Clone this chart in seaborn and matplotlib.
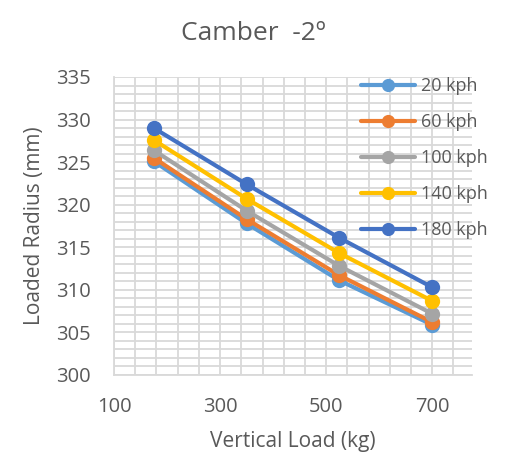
import numpy as np
import pandas as pd
import matplotlib
matplotlib.use("Agg")
import matplotlib.pyplot as plt
from matplotlib.ticker import FixedLocator, MultipleLocator
import seaborn as sns

loads = [175, 350, 525, 700]
speeds = ["20 kph", "60 kph", "100 kph", "140 kph", "180 kph"]
r20 = [325.1, 317.8, 311.1, 305.9]
r60 = [325.5, 318.3, 311.7, 306.2]
r100 = [326.4, 319.3, 312.8, 307.2]
r140 = [327.6, 320.7, 314.3, 308.7]
r180 = [329.0, 322.4, 316.1, 310.3]
colors = ["#5B9BD5", "#ED7D31", "#A5A5A5", "#FFC000", "#4472C4"]
x_ticks = [100, 300, 500, 700]
y_ticks = [300, 305, 310, 315, 320, 325, 330, 335]

rows = []
for s, vals in zip(speeds, [r20, r60, r100, r140, r180]):
    for x, v in zip(loads, vals):
        rows.append({"load": x, "radius": v, "speed": s})
df = pd.DataFrame(rows)

sns.set_theme(style="white")
plt.rcParams["font.family"] = ["Open Sans", "DejaVu Sans"]
txt = "#595959"
grid = "#D9D9D9"

fig = plt.figure(figsize=(5.06, 4.58), dpi=100)
ax = fig.add_axes([114/506, 1-375/458, (472-114)/506, (375-77)/458])

sns.lineplot(data=df, x="load", y="radius", hue="speed", hue_order=speeds,
             palette=colors, marker="o", markersize=11, linewidth=3,
             markeredgewidth=0, ax=ax, legend=True, zorder=3)

ax.set_xlim(100, 775)
ax.set_ylim(300, 335)
ax.xaxis.set_major_locator(FixedLocator(x_ticks))
ax.yaxis.set_major_locator(FixedLocator(y_ticks))
ax.xaxis.set_minor_locator(FixedLocator(list(range(100, 775, 40))))
ax.yaxis.set_minor_locator(MultipleLocator(1))
ax.grid(True, which="both", color=grid, linewidth=1.3, zorder=0)
ax.set_axisbelow(True)
for side in ["top", "right"]:
    ax.spines[side].set_visible(False)
ax.spines["left"].set_color(grid)
ax.spines["bottom"].set_color(grid)
ax.spines["left"].set_linewidth(1.3)
ax.spines["bottom"].set_linewidth(1.3)
ax.tick_params(axis="both", which="both", length=0, labelsize=14.5, colors=txt)
ax.tick_params(axis="x", pad=16)
ax.tick_params(axis="y", pad=17)

ax.set_xlabel("Vertical Load (kg)", fontsize=15, color=txt, labelpad=10)
ax.set_ylabel("Loaded Radius (mm)", fontsize=15, color=txt, labelpad=8)
fig.text(253/506, 1-33/458, "Camber  -2º", ha="center", va="center",
         fontsize=19, color=txt)

handles, labels = ax.get_legend_handles_labels()
for h in handles:
    h.set_markersize(9.5)
leg = ax.legend(handles, labels, loc="upper left",
                bbox_to_anchor=(361/506, 1-77/458), bbox_transform=fig.transFigure,
                frameon=False, fontsize=13, labelcolor=txt,
                handlelength=3.0, handletextpad=0.3, labelspacing=1.0,
                borderpad=0, borderaxespad=0)

fig.savefig("out.png", dpi=100, facecolor="white")
